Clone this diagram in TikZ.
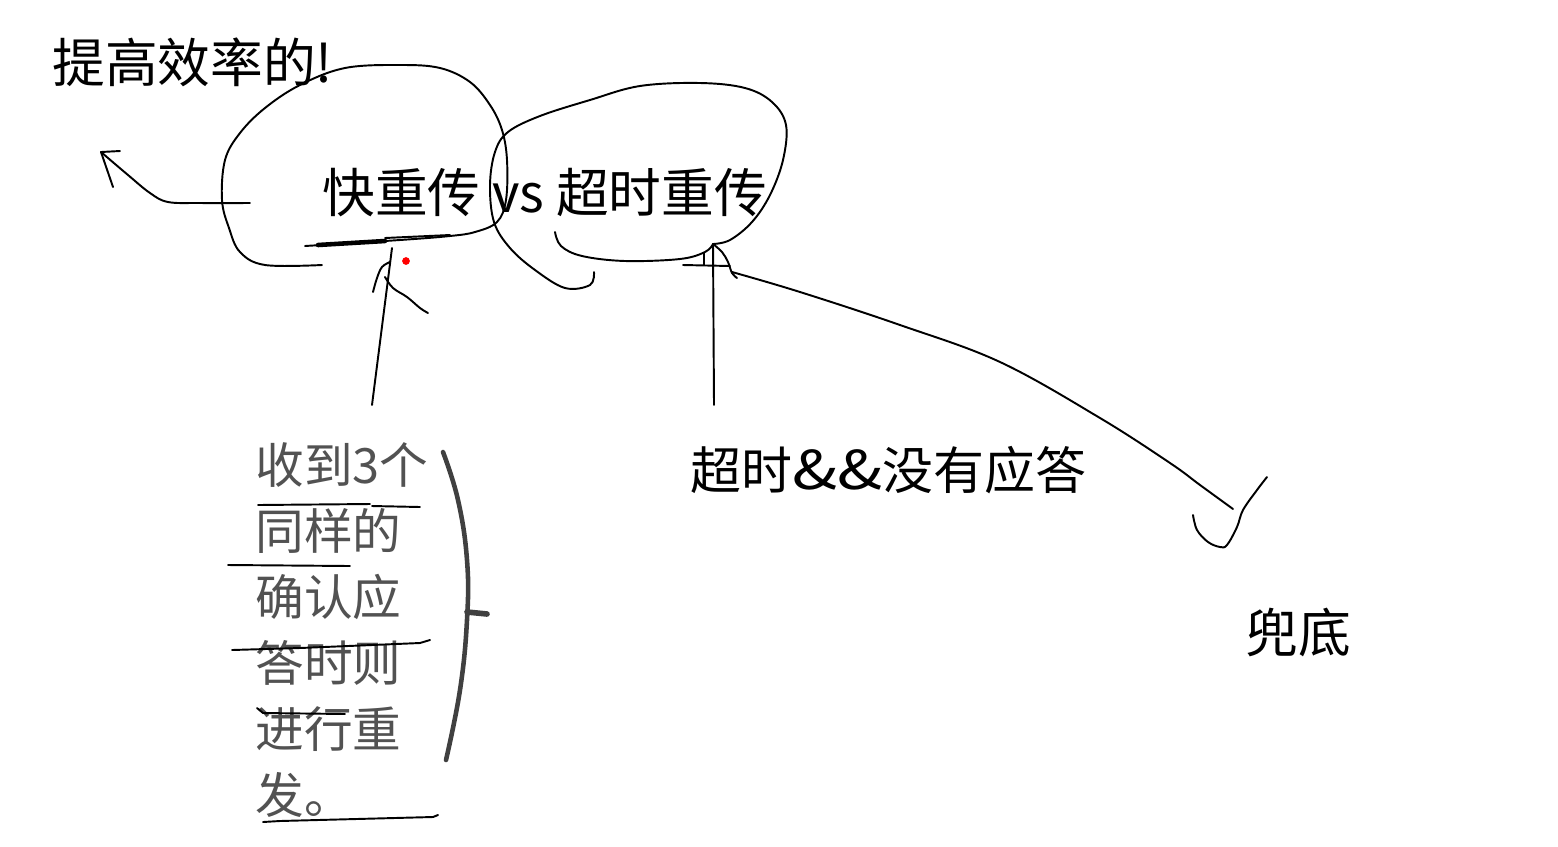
\documentclass[tikz,border=0pt]{standalone}
\usepackage{fontspec}
\usepackage{graphicx}
\setmainfont{Noto Sans CJK SC}
\usetikzlibrary{arrows.meta, positioning}

\tikzset{
  pen/.style={draw=black, line width=1.1pt, line join=round, line cap=round},
  heavy/.style={draw=black!75, line width=2.6pt, line cap=round},
  label/.style={inner sep=0pt, font=\fontsize{30}{34}\selectfont},
  scan/.style={inner sep=0pt, align=left, text=black!68, font=\fontsize{27.7}{37.6}\selectfont},
}
\newcommand{\wideamp}{\scalebox{1.3}[1.05]{\&}}

\begin{document}
\begin{tikzpicture}[x=0.02cm, y=-0.02cm]
\useasboundingbox (0,0) rectangle (1558,846);

\node[label, anchor=base west] at (52,82) (gain) {提高效率的!};
\node[label, anchor=base west] at (322,212) (title) {快重传 vs 超时重传};
\node[label, anchor=base west, font=\fontsize{29}{34}\selectfont] at (690,489) (cond) {超时\wideamp\wideamp 没有应答};
\node[label, anchor=base west] at (1245,652) (last) {兜底};
\node[scan, anchor=north west] at (255,442) (quote) {收到3个\\同样的\\确认应\\答时则\\进行重\\发。};

\coordinate (gainTip) at (101,152);
\coordinate (gainFoot) at (250,203);
\coordinate (fastTip) at (392,248);
\coordinate (quoteTop) at (372,405);
\coordinate (slowTip) at (713,244);
\coordinate (condTop) at (714,405);
\coordinate (lastTip) at (1233,509);

% left blob round 快重传
\draw[pen] plot[smooth, tension=0.6] coordinates {(322,265) (265,265) (240,252) (229,228) (222,200) (225,160) (240,133) (265,108) (300,85) (345,68) (400,65) (440,68) (470,82) (490,105) (502,130) (507,160) (506,200) (497,222) (475,232) (450,236) (400,240) (305,246)};
\draw[pen, line width=2.6pt] (318,245) -- (385,241);
\draw[pen] (385,238) -- (450,235);

% right blob round 超时重传
\draw[pen] plot[smooth, tension=0.6] coordinates {(594,272) (590,285) (565,288) (535,270) (510,248) (494,222) (490,185) (495,152) (508,132) (540,116) (590,100) (640,86) (700,83) (745,88) (772,102) (786,125) (783,160) (770,195) (752,222) (730,240) (slowTip)};
\draw[pen] plot[smooth, tension=0.6] coordinates {(555,232) (561,246) (582,256) (625,261) (680,259) (705,252) (slowTip)};

% arrow to 提高效率的!
\draw[pen] plot[smooth, tension=0.6] coordinates {(gainFoot) (200,203) (168,202) (150,193) (128,175) (gainTip)};
\draw[pen] (gainTip) -- (120,151);
\draw[pen] (gainTip) -- (113,187);

% arrow from the quote up to 快重传
\draw[pen] (quoteTop) -- (fastTip);
\draw[pen] plot[smooth, tension=0.6] coordinates {(390,262) (382,267) (377,278) (373,292)};
\draw[pen] plot[smooth, tension=0.6] coordinates {(385,277) (393,288) (407,297) (420,308) (428,313)};

% arrow from 超时&&没有应答 up to 超时重传
\draw[pen] (condTop) -- (slowTip);
\draw[pen] (683,265) -- (730,266);
\draw[pen] (704,253) -- (704,265);
\draw[pen] plot[smooth, tension=0.6] coordinates {(slowTip) (722,252) (728,262) (732,273) (737,278)};

% arrow to 兜底
\draw[pen] plot[smooth, tension=0.6] coordinates {(732,272) (800,292) (900,325) (1000,362) (1100,418) (1170,463) (1200,485) (lastTip)};
\draw[pen] plot[smooth, tension=0.6] coordinates {(1193,515) (1197,530) (1208,542) (1220,547) (1227,545) (1237,527) (1243,510) (1257,490) (1267,477)};

% marks on the quote
\draw[heavy] plot[smooth, tension=0.7] coordinates {(443,452) (458,500) (467,560) (467,620) (460,690) (446,760)};
\draw[heavy, line width=3.2pt] (467,612) -- (487,614);
\draw[pen] (258,505) -- (370,504);
\draw[pen] (372,506) -- (420,507);
\draw[pen] (228,565) -- (350,566);
\draw[pen] (232,650) -- (300,648) -- (420,643) -- (430,640);
\draw[pen] (257,708) -- (263,713) -- (345,714);
\draw[pen] (263,822) -- (280,821) -- (433,817) -- (438,815);

\fill[red] (406,261) circle[radius=2.2pt];
\end{tikzpicture}
\end{document}
